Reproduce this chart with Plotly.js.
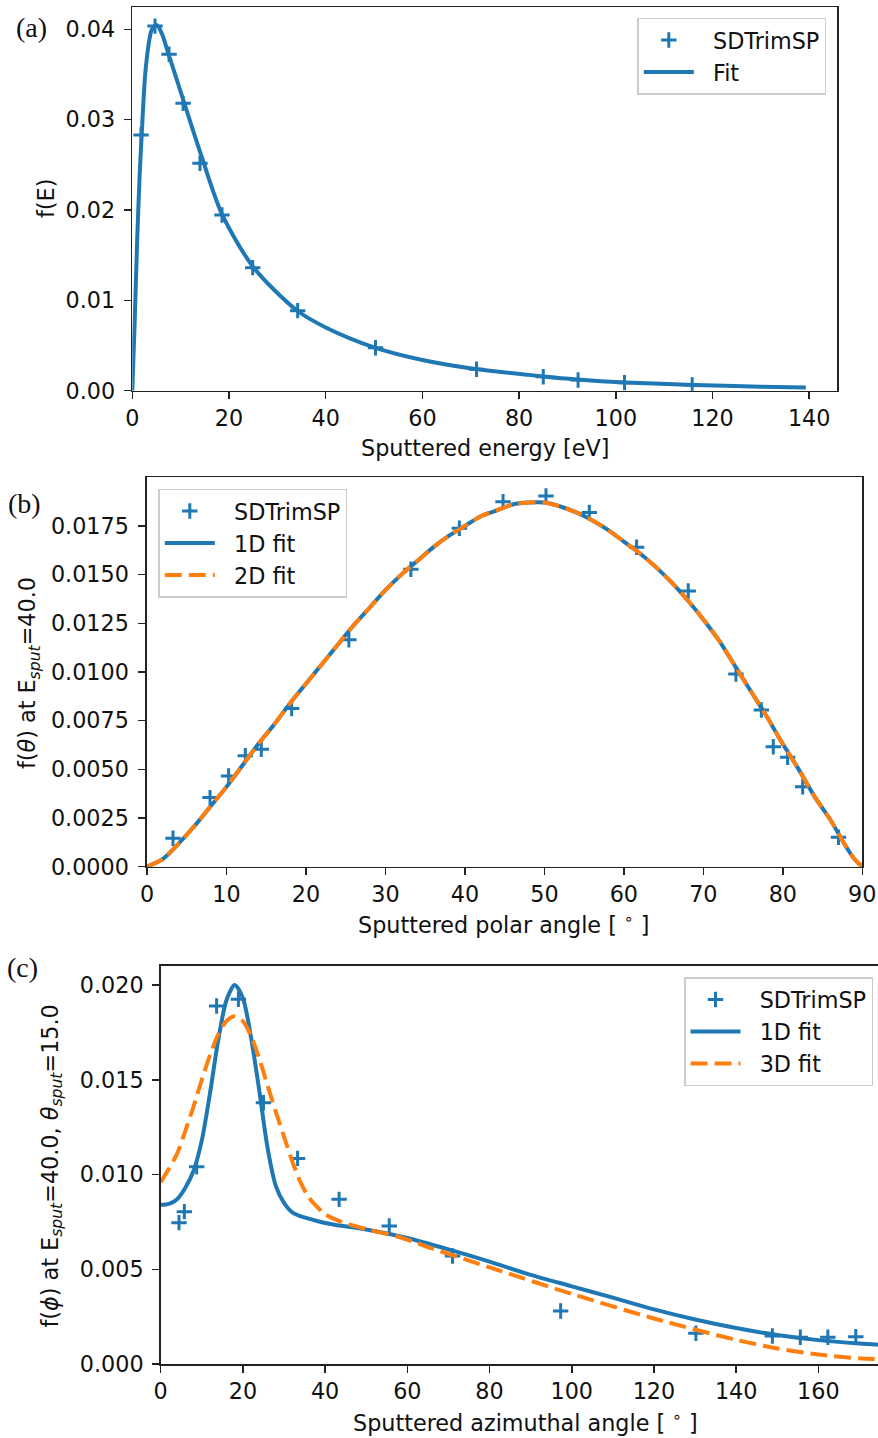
<!DOCTYPE html>
<html>
<head>
<meta charset="utf-8">
<script src="https://cdn.plot.ly/plotly-3.0.1.min.js"></script>
<style>
html,body{margin:0;padding:0;background:#fff;}
#plot{width:878px;height:1438px;}
</style>
</head>
<body>
<div id="plot"></div>
<script>
// ---------- Panel (a): energy distribution ----------
const energySim = [1.8, 4.7, 7.6, 10.5, 14.0, 18.55, 24.9, 34.2, 50.3, 71.2, 85.0, 92.2, 101.8, 115.8];
const fESim     = [0.0283, 0.04035, 0.03723, 0.0318, 0.02517, 0.01945, 0.01362, 0.00886, 0.00476, 0.00237, 0.00155, 0.00118, 0.00089, 0.00063];
const energyFit = [0, 0.5, 1.0, 1.5, 1.94, 2.63, 3.31, 4.01, 5.05, 6.08, 7.45, 10.55, 14.35, 18.5, 25, 34, 40, 50, 60, 71, 85, 92, 102, 116, 130, 139.3];
const fEFit     = [0, 0.0078, 0.0165, 0.0236, 0.0283, 0.03475, 0.03807, 0.03992, 0.04047, 0.03956, 0.03734, 0.03217, 0.0259, 0.0196, 0.0137, 0.0089, 0.0070, 0.0048, 0.0034, 0.0024, 0.00158, 0.00125, 0.00092, 0.00064, 0.00045, 0.00035];

// ---------- Panel (b): polar angle distribution ----------
const thetaSim  = [3.27, 7.93, 10.27, 12.37, 14.38, 18.2, 25.4, 33.2, 39.3, 44.8, 50.2, 55.65, 61.6, 68.1, 74.1, 77.3, 78.8, 80.6, 82.5, 87.0];
const fThetaSim = [0.00146, 0.00355, 0.00466, 0.0057, 0.00603, 0.00812, 0.01165, 0.01528, 0.01738, 0.01875, 0.01904, 0.01819, 0.01641, 0.01416, 0.0099, 0.00805, 0.00616, 0.00562, 0.00411, 0.00151];
const thetaFit  = [0, 2, 4, 6, 8, 10, 12, 14, 16, 18, 20, 22, 24, 26, 28, 30, 32, 34, 36, 38, 40, 42, 44, 46, 48, 50, 52, 54, 56, 58, 60, 62, 64, 66, 68, 70, 72, 74, 76, 78, 80, 82, 84, 86, 88, 89, 90];
const fTheta1D  = [0, 0.0004, 0.0012, 0.0021, 0.0031, 0.0041, 0.0052, 0.0063, 0.0073, 0.0084, 0.0094, 0.0104, 0.0114, 0.0124, 0.0133, 0.0142, 0.0150, 0.0157, 0.0164, 0.0170, 0.0175, 0.0180, 0.0183, 0.0186, 0.0187, 0.0187, 0.0185, 0.0182, 0.0178, 0.0173, 0.0167, 0.0161, 0.0154, 0.0146, 0.0137, 0.0127, 0.0116, 0.0103, 0.0090, 0.0077, 0.0063, 0.0050, 0.0036, 0.0024, 0.0010, 0.0004, 0];
const fTheta2D  = [0, 0.0004, 0.0012, 0.0021, 0.0031, 0.0041, 0.0052, 0.0063, 0.0073, 0.0084, 0.0094, 0.0104, 0.0114, 0.0124, 0.0133, 0.0142, 0.0150, 0.0157, 0.0164, 0.0170, 0.0175, 0.0180, 0.0183, 0.0186, 0.0187, 0.0187, 0.0185, 0.0182, 0.0178, 0.0173, 0.0167, 0.0161, 0.0154, 0.0146, 0.0137, 0.0127, 0.0116, 0.0103, 0.0090, 0.0077, 0.0063, 0.0050, 0.0036, 0.0024, 0.0010, 0.0004, 0];

// ---------- Panel (c): azimuthal angle distribution ----------
const phiSim   = [4.45, 5.75, 8.76, 13.6, 18.9, 25.0, 33.3, 43.4, 55.6, 71.0, 97.3, 130.2, 148.8, 155.6, 162.3, 169.1];
const fPhiSim  = [0.00746, 0.00804, 0.01041, 0.01889, 0.01925, 0.01379, 0.01085, 0.00869, 0.00728, 0.0057, 0.0028, 0.00162, 0.00148, 0.00141, 0.00141, 0.00144];
const phiFit1D = [0, 2, 4, 6, 8, 10, 12, 14, 16, 18, 20, 22, 24, 26, 28, 30, 32, 34, 38, 42, 50, 60, 70, 80, 90, 100, 110, 120, 130, 140, 150, 160, 170, 174.5];
const fPhi1D   = [0.0084, 0.00845, 0.0087, 0.0093, 0.0102, 0.0118, 0.0143, 0.0171, 0.0192, 0.0200, 0.0193, 0.0172, 0.0144, 0.0114, 0.0094, 0.0085, 0.0080, 0.0078, 0.00755, 0.00736, 0.0071, 0.00665, 0.00605, 0.0054, 0.0047, 0.0041, 0.0035, 0.00288, 0.00235, 0.0019, 0.00153, 0.00126, 0.00108, 0.00102];
const phiFit3D = [0, 2, 4, 6, 8, 10, 12, 14, 16, 18, 20, 22, 24, 26, 28, 30, 32, 34, 36, 38, 40, 44, 50, 58, 66, 80, 100, 120, 140, 150, 160, 170, 174.5];
const fPhi3D   = [0.0096, 0.0103, 0.0111, 0.0123, 0.0136, 0.0150, 0.0163, 0.0174, 0.0181, 0.01835, 0.0181, 0.0173, 0.0161, 0.0147, 0.0133, 0.0120, 0.0107, 0.0096, 0.0088, 0.0083, 0.0079, 0.0075, 0.00712, 0.0067, 0.0061, 0.0051, 0.0037, 0.0024, 0.00127, 0.00082, 0.0005, 0.0003, 0.00025];

// ---------- labels ----------
const panelLabels = ['(a)', '(b)', '(c)'];
const legendNames = {sim: 'SDTrimSP', fit: 'Fit', fit1: '1D fit', fit2: '2D fit', fit3: '3D fit'};
const xTitles = ['Sputtered energy [eV]', 'Sputtered polar angle [ <sup>∘</sup> ]', 'Sputtered azimuthal angle [ <sup>∘</sup> ]'];
const yTitles = ['f(E)', 'f(<i>θ</i>) at E<sub><i>sput</i></sub>=40.0', 'f(<i>ϕ</i>) at E<sub><i>sput</i></sub>=40.0, <i>θ</i><sub><i>sput</i></sub>=15.0'];

const BLUE = '#1f77b4', ORANGE = '#ff7f0e';
const W = 878, H = 1438;
const FS = 22.3;
const FONT = 'DejaVu Sans, Verdana, sans-serif';
const PAD = '\u00a0\u00a0';

const markerStyle = {symbol: 'cross-thin', size: 11, color: BLUE, line: {color: BLUE, width: 3}};
const solid = {color: BLUE, width: 4, shape: 'spline', smoothing: 0.8};
const dashed = {color: ORANGE, width: 4, dash: '17px,7px', shape: 'spline', smoothing: 0.8};

const traces = [
  {x: energySim, y: fESim, mode: 'markers', name: PAD + legendNames.sim, marker: markerStyle, xaxis: 'x', yaxis: 'y', legend: 'legend', legendgroup: 'a1'},
  {x: energyFit, y: fEFit, mode: 'lines', name: PAD + legendNames.fit, line: solid, xaxis: 'x', yaxis: 'y', legend: 'legend', legendgroup: 'a2'},
  {x: thetaSim, y: fThetaSim, mode: 'markers', name: PAD + legendNames.sim, marker: markerStyle, xaxis: 'x2', yaxis: 'y2', legend: 'legend2', legendgroup: 'b1'},
  {x: thetaFit, y: fTheta1D, mode: 'lines', name: PAD + legendNames.fit1, line: solid, xaxis: 'x2', yaxis: 'y2', legend: 'legend2', legendgroup: 'b2'},
  {x: thetaFit, y: fTheta2D, mode: 'lines', name: PAD + legendNames.fit2, line: dashed, xaxis: 'x2', yaxis: 'y2', legend: 'legend2', legendgroup: 'b3'},
  {x: phiSim, y: fPhiSim, mode: 'markers', name: PAD + legendNames.sim, marker: markerStyle, xaxis: 'x3', yaxis: 'y3', legend: 'legend3', legendgroup: 'c1'},
  {x: phiFit1D, y: fPhi1D, mode: 'lines', name: PAD + legendNames.fit1, line: solid, xaxis: 'x3', yaxis: 'y3', legend: 'legend3', legendgroup: 'c2'},
  {x: phiFit3D, y: fPhi3D, mode: 'lines', name: PAD + legendNames.fit3, line: dashed, xaxis: 'x3', yaxis: 'y3', legend: 'legend3', legendgroup: 'c3'}
];

function px2x(p) { return p / W; }
function px2y(p) { return 1 - p / H; }

function axisBase(extra) {
  return Object.assign({
    showline: true, linecolor: '#222', linewidth: 1.6, mirror: true,
    ticks: 'outside', ticklen: 7, tickwidth: 1.5, tickcolor: '#222',
    showgrid: false, zeroline: false,
    tickfont: {family: FONT, size: FS, color: '#111'}
  }, extra);
}

function legendBox(xp, yp) {
  return {
    x: px2x(xp), y: px2y(yp), xanchor: 'left', yanchor: 'top',
    bgcolor: 'rgba(255,255,255,0.85)', bordercolor: '#cccccc', borderwidth: 1.5,
    font: {family: FONT, size: FS, color: '#111'},
    traceorder: 'grouped', tracegroupgap: 0, itemwidth: 50
  };
}

function ann(text, xp, yp, opts) {
  return Object.assign({text: text, x: px2x(xp), y: px2y(yp), xref: 'paper', yref: 'paper', showarrow: false,
    font: {family: FONT, size: FS, color: '#111'}, xanchor: 'center', yanchor: 'middle'}, opts || {});
}
const serif = {font: {family: 'Liberation Serif, serif', size: 28, color: '#111'}};

const layout = {
  width: W, height: H,
  margin: {l: 0, r: 0, t: 0, b: 0},
  paper_bgcolor: '#fff', plot_bgcolor: '#fff',
  showlegend: true,
  xaxis: axisBase({domain: [px2x(132.3), px2x(837)], range: [0, 145.75], tickvals: [0, 20, 40, 60, 80, 100, 120, 140], anchor: 'y'}),
  yaxis: axisBase({domain: [px2y(390.7), px2y(7.3)], range: [0, 0.04243], tickvals: [0, 0.01, 0.02, 0.03, 0.04], tickformat: '.2f', anchor: 'x', ticklabelstandoff: 4}),
  xaxis2: axisBase({domain: [px2x(147), px2x(862.3)], range: [0, 90], tickvals: [0, 10, 20, 30, 40, 50, 60, 70, 80, 90], anchor: 'y2'}),
  yaxis2: axisBase({domain: [px2y(866.7), px2y(477.3)], range: [0, 0.0200], tickvals: [0, 0.0025, 0.005, 0.0075, 0.01, 0.0125, 0.015, 0.0175], tickformat: '.4f', anchor: 'x2', ticklabelstandoff: 5}),
  xaxis3: axisBase({domain: [px2x(160.7), 1], range: [0, 174.5], tickvals: [0, 20, 40, 60, 80, 100, 120, 140, 160], anchor: 'y3'}),
  yaxis3: axisBase({domain: [px2y(1364), px2y(965.7)], range: [0, 0.02102], tickvals: [0, 0.005, 0.01, 0.015, 0.02], tickformat: '.3f', anchor: 'x3', mirror: false, ticklabelstandoff: 4}),
  legend: legendBox(637.3, 17.5),
  legend2: legendBox(158.3, 488.5),
  legend3: legendBox(684, 977),
  annotations: [
    ann(panelLabels[0], 31, 28, serif),
    ann(panelLabels[1], 24.5, 503, serif),
    ann(panelLabels[2], 22, 967, serif),
    ann(xTitles[0], 485, 448),
    ann(xTitles[1], 504.5, 924),
    ann(xTitles[2], 525.5, 1422),
    ann(yTitles[0], 46, 199, {textangle: -90}),
    ann(yTitles[1], 29, 673, {textangle: -90}),
    ann(yTitles[2], 51.5, 1166, {textangle: -90})
  ]
};

Plotly.newPlot('plot', traces, layout, {displayModeBar: false, staticPlot: true});
</script>
</body>
</html>
